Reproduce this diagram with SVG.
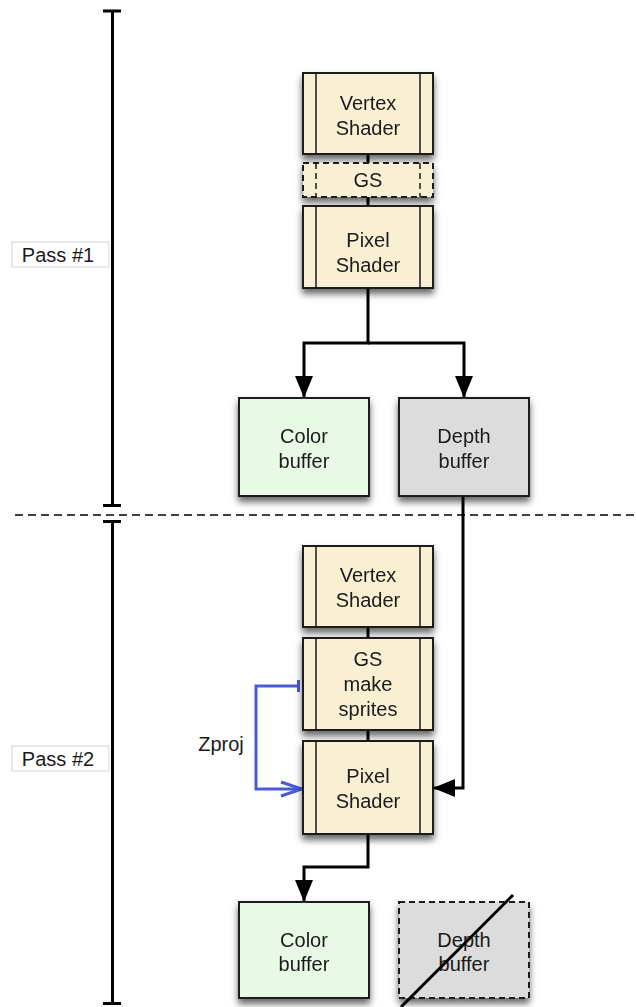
<svg xmlns="http://www.w3.org/2000/svg" width="636" height="1007" viewBox="0 0 636 1007">
  <style>
    text { font-family: "Liberation Sans", Arial, sans-serif; font-size: 20px; fill: #1a1a1a; text-anchor: middle; }
    .shader { fill: #f9efd2; stroke: #1a1a1a; stroke-width: 2; }
    .bar { stroke: #1a1a1a; stroke-width: 1.5; }
    .dashed { stroke-dasharray: 6 4; }
    .color { fill: #e8fae6; stroke: #1a1a1a; stroke-width: 2; }
    .depth { fill: #dcdcdc; stroke: #1a1a1a; stroke-width: 2; }
    .wire { fill: none; stroke: #000; stroke-width: 3; }
    .zproj { fill: none; stroke: #4a5ad6; stroke-width: 3; }
    .tick { fill: none; stroke: #000; stroke-width: 3; }
    .passbox { fill: #fff; stroke: #d4d4d4; stroke-width: 1; }
  </style>
  <defs>
    <filter id="shadow" x="-20%" y="-20%" width="140%" height="150%">
      <feDropShadow dx="0" dy="5" stdDeviation="3.5" flood-color="#000" flood-opacity="0.6"/>
    </filter>
    <marker id="arrow" markerUnits="userSpaceOnUse" markerWidth="22" markerHeight="18" refX="21" refY="9" orient="auto">
      <path d="M0,0 L22,9 L0,18 Z" fill="#000"/>
    </marker>
    <marker id="open" markerUnits="userSpaceOnUse" markerWidth="26" markerHeight="18" refX="23" refY="9" orient="auto">
      <path d="M2,2 L23,9 L2,16" fill="none" stroke="#4a5ad6" stroke-width="3"/>
    </marker>
  </defs>

  <!-- pass brackets and separator -->
  <g id="pass-brackets">
    <path class="tick" d="M112.5,11 V505.5 M103,11 H121 M103,505.5 H121"/>
    <path class="tick" d="M112.5,521.5 V1003.5 M103,521.5 H121 M103,1003.5 H121"/>
    <line x1="15" y1="515" x2="636" y2="515" stroke="#000" stroke-width="1.5" stroke-dasharray="8 5"/>
  </g>
  <g id="pass1-label">
    <rect class="passbox" x="12" y="242" width="97" height="25"/>
    <text x="58" y="262">Pass #1</text>
  </g>
  <g id="pass2-label">
    <rect class="passbox" x="12" y="746" width="97" height="25"/>
    <text x="58" y="766">Pass #2</text>
  </g>

  <!-- connectors -->
  <g id="connectors">
    <line class="wire" x1="368" y1="154" x2="368" y2="164"/>
    <line class="wire" x1="368" y1="196" x2="368" y2="206"/>
    <path class="wire" d="M368,288 V343 H304 V397" marker-end="url(#arrow)"/>
    <path class="wire" d="M368,343 H464 V397" marker-end="url(#arrow)"/>
    <path class="wire" d="M463,496 V788 H434" marker-end="url(#arrow)"/>
    <line class="wire" x1="368" y1="627" x2="368" y2="638"/>
    <line class="wire" x1="368" y1="730" x2="368" y2="741"/>
    <path class="wire" d="M368,834 V867 H304 V901" marker-end="url(#arrow)"/>
    <path class="zproj" d="M298.5,680 V692 M298.5,686 H256 V789 H302" marker-end="url(#open)"/>
  </g>
  <text x="221" y="751">Zproj</text>

  <!-- pass 1 nodes -->
  <g id="vs1" filter="url(#shadow)">
    <rect class="shader" x="303" y="73" width="130" height="81"/>
    <path class="bar" d="M316,73 V154 M420,73 V154"/>
    <text x="368" y="110">Vertex</text>
    <text x="368" y="135">Shader</text>
  </g>
  <g id="gs1" filter="url(#shadow)">
    <rect class="shader dashed" x="303" y="163" width="130" height="34"/>
    <path class="bar dashed" d="M316,163 V197 M420,163 V197"/>
    <text x="368" y="187">GS</text>
  </g>
  <g id="ps1" filter="url(#shadow)">
    <rect class="shader" x="303" y="206" width="130" height="82"/>
    <path class="bar" d="M316,206 V288 M420,206 V288"/>
    <text x="368" y="247">Pixel</text>
    <text x="368" y="272">Shader</text>
  </g>
  <g id="color1" filter="url(#shadow)">
    <rect class="color" x="239" y="398" width="130" height="98"/>
    <text x="304" y="443">Color</text>
    <text x="304" y="468">buffer</text>
  </g>
  <g id="depth1" filter="url(#shadow)">
    <rect class="depth" x="399" y="398" width="130" height="98"/>
    <text x="464" y="443">Depth</text>
    <text x="464" y="468">buffer</text>
  </g>

  <!-- pass 2 nodes -->
  <g id="vs2" filter="url(#shadow)">
    <rect class="shader" x="303" y="546" width="130" height="81"/>
    <path class="bar" d="M316,546 V627 M420,546 V627"/>
    <text x="368" y="582">Vertex</text>
    <text x="368" y="607">Shader</text>
  </g>
  <g id="gs2" filter="url(#shadow)">
    <rect class="shader" x="303" y="638" width="130" height="92"/>
    <path class="bar" d="M316,638 V730 M420,638 V730"/>
    <text x="368" y="666">GS</text>
    <text x="368" y="691">make</text>
    <text x="368" y="716">sprites</text>
  </g>
  <g id="ps2" filter="url(#shadow)">
    <rect class="shader" x="303" y="741" width="130" height="93"/>
    <path class="bar" d="M316,741 V834 M420,741 V834"/>
    <text x="368" y="783">Pixel</text>
    <text x="368" y="808">Shader</text>
  </g>
  <g id="color2" filter="url(#shadow)">
    <rect class="color" x="239" y="902" width="130" height="96"/>
    <text x="304" y="947">Color</text>
    <text x="304" y="971">buffer</text>
  </g>
  <g id="depth2">
    <rect class="depth dashed" x="399" y="902" width="130" height="96" filter="url(#shadow)"/>
    <text x="464" y="947">Depth</text>
    <text x="464" y="971">buffer</text>
    <line x1="513" y1="895" x2="401" y2="1007" stroke="#000" stroke-width="3"/>
  </g>
</svg>
